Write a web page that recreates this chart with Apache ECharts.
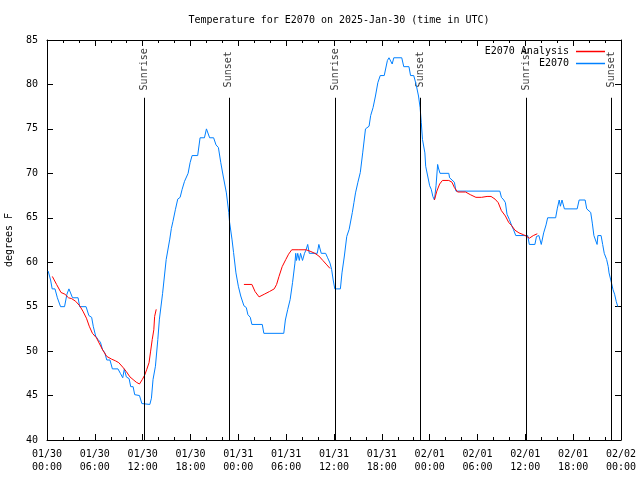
<!DOCTYPE html>
<html><head><meta charset="utf-8">
<script src="https://cdn.jsdelivr.net/npm/echarts@6/dist/echarts.min.js"></script>
<style>html,body{margin:0;padding:0;background:#fff}#c{width:640px;height:480px}</style>
</head><body><div id="c"></div>
<script>
const titleText = 'Temperature for E2070 on 2025-Jan-30 (time in UTC)';
const xTickLabels = ['01/30\n00:00','01/30\n06:00','01/30\n12:00','01/30\n18:00','01/31\n00:00','01/31\n06:00','01/31\n12:00','01/31\n18:00','02/01\n00:00','02/01\n06:00','02/01\n12:00','02/01\n18:00','02/02\n00:00'];
// hours since 01/30 00:00 UTC
const sunHours = [12.17, 22.8, 36.17, 46.8, 60.17, 70.8];
const sunNames = ['Sunrise','Sunset','Sunrise','Sunset','Sunrise','Sunset'];
const obsName = 'E2070';
const anaName = 'E2070 Analysis';
const obsData = [[0.15,59],[0.45,58],[0.65,57],[1.0,57],[1.3,56],[1.7,55],[2.2,55],[2.5,56.4],[2.75,57],[2.95,57],[3.2,56],[3.9,56],[4.1,55],[4.9,55],[5.25,54],[5.6,53.8],[5.8,52.8],[6.1,51.7],[6.4,51.3],[6.7,51],[6.95,50.2],[7.25,49.8],[7.5,49],[7.9,49],[8.2,48],[8.9,48],[9.2,47.5],[9.5,47],[9.7,48],[9.95,47.1],[10.3,46.9],[10.5,46],[10.8,46],[11.0,45.1],[11.6,45],[11.9,44.1],[12.9,44],[13.1,44.7],[13.3,46.8],[13.6,48.3],[13.9,51.3],[14.1,53.6],[14.5,56.5],[14.95,60.3],[15.4,62.6],[15.6,63.8],[15.8,64.6],[16.1,65.9],[16.4,67.1],[16.7,67.3],[16.95,68.2],[17.25,69.1],[17.7,70],[17.95,71.2],[18.2,72],[18.9,72],[19.2,74],[19.75,74],[20.0,75],[20.4,74],[20.9,74],[21.2,73.2],[21.5,72.9],[21.8,71.2],[22.1,69.7],[22.5,67.8],[22.8,65.6],[22.9,64.5],[23.2,62.6],[23.4,61.1],[23.7,58.8],[24.0,57.3],[24.3,56.2],[24.7,55.1],[25.0,54.9],[25.2,54.1],[25.5,53.8],[25.7,53],[27.0,53],[27.2,52],[29.7,52],[29.9,53.5],[30.2,54.7],[30.5,55.8],[30.8,57.7],[31.1,59.9],[31.2,61],[31.3,60.2],[31.45,61],[31.65,60.2],[31.8,61],[32.05,60.2],[32.3,61],[32.5,61.4],[32.7,62],[32.9,61],[33.9,61],[34.1,62],[34.4,61],[34.95,61],[35.2,60.5],[35.5,59.9],[35.7,59.2],[35.9,58],[36.1,57],[36.8,57],[37.0,58.8],[37.3,60.7],[37.6,62.9],[37.9,63.7],[38.1,63.8],[38.3,65.6],[38.5,66.7],[38.7,67.8],[39.0,69],[39.3,70.1],[39.6,72.3],[39.95,75],[40.4,75.3],[40.6,76.5],[40.9,77.4],[41.2,78.7],[41.5,80.2],[41.8,81],[42.3,81],[42.7,82.7],[42.9,83],[43.1,83],[43.3,82.3],[43.5,83],[44.5,83],[44.75,82],[45.4,82],[45.6,81],[46.0,81],[46.3,80],[46.6,78.7],[46.8,77.4],[46.95,75.7],[47.1,73.8],[47.4,72.3],[47.5,70.8],[47.75,69.7],[48.0,68.6],[48.2,68.2],[48.4,67.4],[48.6,67],[48.8,68.6],[49.0,71],[49.1,70.6],[49.3,70],[50.4,70],[50.5,69.5],[51.1,69],[51.3,68],[56.8,68],[57.0,67.3],[57.3,67],[57.5,66.7],[57.7,65.4],[57.8,65.2],[58.0,64.8],[58.3,64.1],[58.5,63.7],[58.8,63],[60.3,63],[60.5,62],[61.2,62],[61.4,62.9],[61.7,63],[61.85,63],[62.0,62],[62.3,63.3],[62.6,64.2],[62.8,65],[63.8,65],[64.0,66],[64.25,67],[64.4,66.3],[64.6,67],[64.75,67],[64.9,66],[66.5,66],[66.75,67],[67.5,67],[67.7,66],[67.95,66],[68.2,65.6],[68.4,64.4],[68.6,63],[68.8,63],[69.0,62],[69.1,63],[69.5,63],[69.7,62],[69.9,61],[70.1,61],[70.2,60.3],[70.4,59.5],[70.5,58.8],[70.8,57.7],[71.0,56.9],[71.2,56.4],[71.4,55.6],[71.6,55]];
const anaData = [[0.67,58.4],[1.2,57.5],[1.75,56.6],[2.25,56.4],[2.7,56],[3.1,55.9],[3.6,55.6],[4.1,55.1],[4.5,54.5],[4.95,53.7],[5.3,52.8],[5.7,52],[6.2,51.5],[6.6,50.8],[7.0,50.1],[7.5,49.4],[8.1,49.1],[8.6,48.9],[9.0,48.7],[9.5,48.2],[9.95,47.7],[10.4,47.1],[10.8,46.8],[11.2,46.5],[11.6,46.3],[11.95,46.8],[12.25,47.3],[12.5,47.9],[12.8,48.7],[13.0,50],[13.2,51.3],[13.4,52.4],[13.5,53.9],[13.7,54.7],[14.0,null],
[24.7,57.5],[25.7,57.5],[26.1,56.7],[26.6,56.1],[27.25,56.4],[27.9,56.7],[28.5,57],[28.8,57.5],[29.1,58.4],[29.5,59.5],[29.95,60.3],[30.3,60.9],[30.7,61.4],[31.6,61.4],[32.5,61.4],[33.1,61.2],[33.6,61],[34.1,60.7],[34.6,60.2],[35.1,59.7],[35.5,59.3],[36.0,null],
[48.6,67],[48.9,68],[49.25,68.8],[49.6,69.2],[50.4,69.2],[50.8,69],[51.1,68.4],[51.5,67.9],[52.5,67.9],[53.1,67.6],[53.8,67.3],[54.5,67.3],[55.2,67.4],[55.7,67.4],[56.2,67.1],[56.6,66.7],[57.0,65.8],[57.5,65.2],[57.9,64.5],[58.3,64.1],[58.7,63.6],[59.2,63.3],[59.75,63.1],[60.2,62.9],[60.5,62.7],[61.0,63],[61.5,63.2]];
const yMin = 40, yMax = 85, yStep = 5;
const xMin = 0, xMax = 72, xStep = 6;
const sunLineTop = 78.5, sunLabelY = 81.7;

const FONT = 'DejaVu Sans Mono';
const chart = echarts.init(document.getElementById('c'), null, {renderer:'canvas'});
const axisCommon = {
  axisLine:{show:true, onZero:false, lineStyle:{color:'#000', width:1}},
  splitLine:{show:false}
};
chart.setOption({
  animation:false,
  backgroundColor:'#fff',
  textStyle:{fontFamily:FONT},
  title:{text:titleText, left:334, textAlign:'center', top:10,
    textStyle:{fontFamily:FONT, fontSize:10, fontWeight:'normal', color:'#000'}},
  legend:{
    data:[anaName, obsName], orient:'vertical', right:30, top:41, align:'right',
    icon:'rect', itemWidth:29, itemHeight:1.5, itemGap:1,
    textStyle:{fontFamily:FONT, fontSize:10, color:'#000', padding:[0,2,0,0], lineHeight:11},
    selectedMode:false
  },
  grid:{left:47, right:19, top:40, bottom:40, containLabel:false, outerBoundsMode:'none'},
  xAxis:[
    Object.assign({type:'value', min:xMin, max:xMax, interval:xStep, position:'bottom',
      axisTick:{inside:true, length:6, lineStyle:{color:'#000'}},
      minorTick:{show:true, splitNumber:3, length:3, lineStyle:{color:'#000'}},
      axisLabel:{margin:8, fontFamily:FONT, fontSize:10, color:'#000', lineHeight:13,
        formatter:v=>xTickLabels[Math.round((v-xMin)/xStep)] || ''}}, axisCommon),
    Object.assign({type:'value', min:xMin, max:xMax, interval:xStep, position:'top',
      axisTick:{inside:true, length:6, lineStyle:{color:'#000'}},
      minorTick:{show:true, splitNumber:3, length:3, lineStyle:{color:'#000'}},
      axisLabel:{show:false}}, axisCommon)
  ],
  yAxis:[
    Object.assign({type:'value', min:yMin, max:yMax, interval:yStep, position:'left',
      name:'degrees F', nameLocation:'middle', nameGap:33,
      nameTextStyle:{fontFamily:FONT, fontSize:10, color:'#000'},
      axisTick:{inside:true, length:6, lineStyle:{color:'#000'}},
      axisLabel:{margin:9, fontFamily:FONT, fontSize:10, color:'#000'}}, axisCommon),
    Object.assign({type:'value', min:yMin, max:yMax, interval:yStep, position:'right',
      axisTick:{inside:true, length:6, lineStyle:{color:'#000'}},
      axisLabel:{show:false}}, axisCommon)
  ],
  series:[
    {name:'sun', type:'line', data:[], silent:true,
      markLine:{silent:true, symbol:['none','none'], animation:false,
        lineStyle:{color:'#000', width:1, type:'solid'}, label:{show:false},
        data: sunHours.map(h=>[{coord:[h, yMin]},{coord:[h, sunLineTop]}])}},
    {name:'sunLabels', type:'scatter', symbolSize:0, silent:true,
      data: sunHours.map((h,i)=>({value:[h, sunLabelY], name:sunNames[i]})),
      label:{show:true, position:'inside', rotate:90, formatter:p=>p.name,
        fontFamily:FONT, fontSize:10, color:'#000'}},
    {name:obsName, type:'line', data:obsData, showSymbol:false, symbol:'none',
      lineStyle:{color:'#0080ff', width:1}, itemStyle:{color:'#0080ff'}},
    {name:anaName, type:'line', data:anaData, showSymbol:false, symbol:'none', connectNulls:false,
      lineStyle:{color:'#ff0000', width:1}, itemStyle:{color:'#ff0000'}}
  ]
});
</script></body></html>
